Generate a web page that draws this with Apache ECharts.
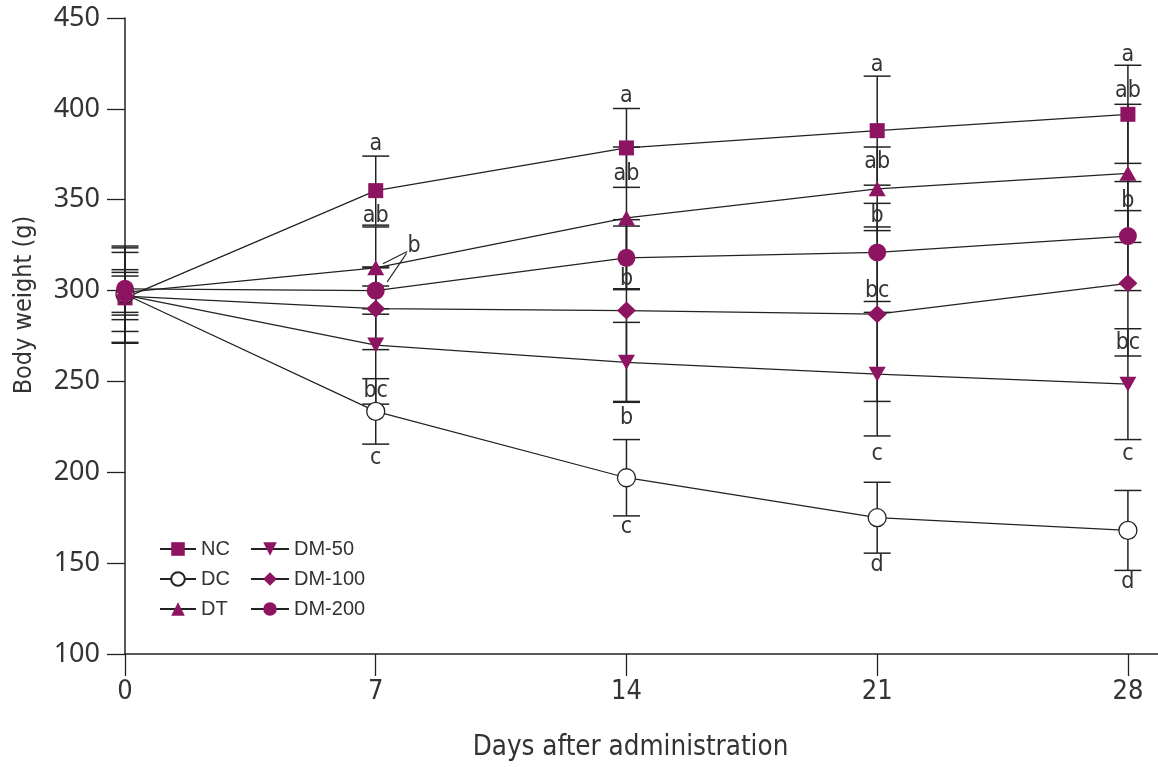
<!DOCTYPE html>
<html>
<head>
<meta charset="utf-8">
<script src="https://cdn.jsdelivr.net/npm/echarts@6/dist/echarts.min.js"></script>
<style>
  html, body { margin: 0; padding: 0; background: #fff; }
  #chart { width: 1158px; height: 767px; }
</style>
</head>
<body>
<div id="chart"></div>
<script>
// ---- data ----
const days = [0, 7, 14, 21, 28];
const seriesNames = ['NC', 'DC', 'DT', 'DM-50', 'DM-100', 'DM-200'];
const NC      = [296, 355, 378.5, 388, 397];
const NC_sd   = [25, 19, 21.7, 30, 27];
const DC      = [298, 233.5, 197, 175, 168];
const DC_sd   = [10, 18, 21, 19.5, 22];
const DT      = [299, 312.5, 340, 356, 364.5];
const DT_sd   = [12.5, 22.5, 39, 23, 38];
const DM50    = [297.5, 270, 260.5, 254, 248.5];
const DM50_sd = [26, 32.5, 22, 34, 30.5];
const DM100   = [297, 290, 289, 287, 304];
const DM100_sd= [13, 22.5, 50, 48, 40];
const DM200   = [301, 300, 318, 321, 330];
const DM200_sd= [23.5, 13, 17.5, 27, 30];
const yTicks = [100, 150, 200, 250, 300, 350, 400, 450];
const xTicks = [0, 7, 14, 21, 28];
// significance letters: [day, value, letter]
const letters = [
  [7, 380.4, 'a'], [7, 340.8, 'ab'], [8.07, 324.4, 'b'], [7, 244.5, 'bc'], [7, 208, 'c'],
  [14, 406.9, 'a'], [14, 364, 'ab'], [14, 306.5, 'b'], [14, 229.8, 'b'], [14, 169.6, 'c'],
  [21, 424.3, 'a'], [21, 370.6, 'ab'], [21, 341, 'b'], [21, 300, 'bc'], [21, 210.1, 'c'], [21, 148.8, 'd'],
  [28, 429.7, 'a'], [28, 409.6, 'ab'], [28, 349.4, 'b'], [28, 270.9, 'bc'], [28, 209.8, 'c'], [28, 139.5, 'd']
];
// leader lines from the day-7 'b' letter: [x1, y1, x2, y2]
const leaders = [
  [7.88, 321.5, 7.2, 314.8],
  [7.86, 320.5, 7.32, 304.8]
];

// ---- styling ----
const PURPLE = '#8c1460';
const INK = '#222222';
const NARROW = "'Liberation Sans Narrow','DejaVu Sans Condensed','Roboto Condensed',sans-serif";
const REG = "'Liberation Sans', Arial, sans-serif";
const WIDE = "'Noto Sans','Open Sans',sans-serif";

const groups = [
  { name: 'NC', v: NC, sd: NC_sd, symbol: 'rect', size: 15 },
  { name: 'DC', v: DC, sd: DC_sd, symbol: 'circle', size: 18, open: true },
  { name: 'DT', v: DT, sd: DT_sd, symbol: 'triangle', size: [17, 15] },
  { name: 'DM-50', v: DM50, sd: DM50_sd, symbol: 'path://M0,0 L10,0 L5,9 Z', size: [17, 15] },
  { name: 'DM-100', v: DM100, sd: DM100_sd, symbol: 'diamond', size: [19, 18] },
  { name: 'DM-200', v: DM200, sd: DM200_sd, symbol: 'circle', size: 18 }
];

const errData = [];
groups.forEach(g => days.forEach((d, i) => errData.push([d, g.v[i], g.sd[i]])));

const lineSeries = groups.map(g => ({
  name: g.name,
  type: 'line',
  z: 3,
  data: days.map((d, i) => [d, g.v[i]]),
  symbol: g.symbol,
  symbolSize: g.size,
  showAllSymbol: true,
  lineStyle: { color: INK, width: 1.25 },
  itemStyle: g.open
    ? { color: '#ffffff', borderColor: INK, borderWidth: 1.3 }
    : { color: PURPLE, borderWidth: 0 },
  emphasis: { disabled: true },
  animation: false
}));

const errorSeries = {
  type: 'custom',
  z: 2,
  silent: true,
  animation: false,
  data: errData,
  encode: { x: 0, y: 1 },
  renderItem: function (params, api) {
    const x = api.value(0), m = api.value(1), s = api.value(2);
    const top = api.coord([x, m + s]);
    const bot = api.coord([x, m - s]);
    const hw = 13.5;
    const st = { stroke: INK, lineWidth: 1.5 };
    return {
      type: 'group',
      children: [
        { type: 'line', shape: { x1: top[0], y1: top[1], x2: bot[0], y2: bot[1] }, style: st },
        { type: 'line', shape: { x1: top[0] - hw, y1: top[1], x2: top[0] + hw, y2: top[1] }, style: st },
        { type: 'line', shape: { x1: bot[0] - hw, y1: bot[1], x2: bot[0] + hw, y2: bot[1] }, style: st }
      ]
    };
  }
};

const leaderSeries = {
  type: 'custom',
  z: 4,
  silent: true,
  animation: false,
  data: leaders,
  encode: { x: [0, 2], y: [1, 3] },
  renderItem: function (params, api) {
    const p1 = api.coord([api.value(0), api.value(1)]);
    const p2 = api.coord([api.value(2), api.value(3)]);
    return { type: 'line', shape: { x1: p1[0], y1: p1[1], x2: p2[0], y2: p2[1] },
             style: { stroke: INK, lineWidth: 1.1 } };
  }
};

const letterSeries = {
  type: 'custom',
  z: 5,
  silent: true,
  animation: false,
  data: letters,
  encode: { x: 0, y: 1 },
  renderItem: function (params, api) {
    const p = api.coord([api.value(0), api.value(1)]);
    return {
      type: 'text',
      x: p[0], y: p[1],
      style: { text: letters[params.dataIndex][2], fill: '#333', font: '23px ' + NARROW,
               align: 'center', verticalAlign: 'middle' }
    };
  }
};

const legendCommon = {
  orient: 'vertical',
  top: 534,
  itemWidth: 36,
  itemHeight: 17,
  itemGap: 10,
  selectedMode: false,
  textStyle: { fontSize: 20, color: '#333', fontFamily: REG, lineHeight: 20 }
};

const chart = echarts.init(document.getElementById('chart'), null, { renderer: 'canvas' });
chart.setOption({
  animation: false,
  backgroundColor: '#ffffff',
  grid: { left: 125, right: 0, top: 18, bottom: 106, containLabel: false },
  legend: [
    Object.assign({}, legendCommon, { left: 154, data: ['NC', 'DC', 'DT'] }),
    Object.assign({}, legendCommon, { left: 245, itemWidth: 38, data: ['DM-50', 'DM-100', 'DM-200'] })
  ],
  xAxis: {
    type: 'value',
    min: 0,
    max: 28.84,
    name: 'Days after administration',
    nameLocation: 'middle',
    nameGap: 80,
    nameTextStyle: { fontSize: 27.5, color: '#333', fontFamily: NARROW, padding: [0, 22, 0, 0] },
    splitLine: { show: false },
    axisLine: { onZero: false, lineStyle: { color: INK, width: 1.5 } },
    axisTick: { length: 22, lineStyle: { color: INK, width: 1.3 }, customValues: xTicks },
    axisLabel: { fontSize: 27, color: '#333', fontFamily: NARROW, margin: 24, customValues: xTicks }
  },
  yAxis: {
    type: 'value',
    min: 100,
    max: 450,
    interval: 50,
    name: 'Body weight (g)',
    nameLocation: 'middle',
    nameGap: 88,
    nameTextStyle: { fontSize: 25, color: '#333', fontFamily: NARROW, padding: [0, 0, 0, 62] },
    splitLine: { show: false },
    axisLine: { show: true, lineStyle: { color: INK, width: 1.5 } },
    axisTick: { show: true, length: 18, lineStyle: { color: INK, width: 1.3 } },
    axisLabel: { fontSize: 27, color: '#333', fontFamily: WIDE, margin: 25,
                 formatter: v => (yTicks.indexOf(v) >= 0 ? String(v) : '') }
  },
  series: [errorSeries].concat(lineSeries, [leaderSeries, letterSeries])
});
</script>
</body>
</html>
